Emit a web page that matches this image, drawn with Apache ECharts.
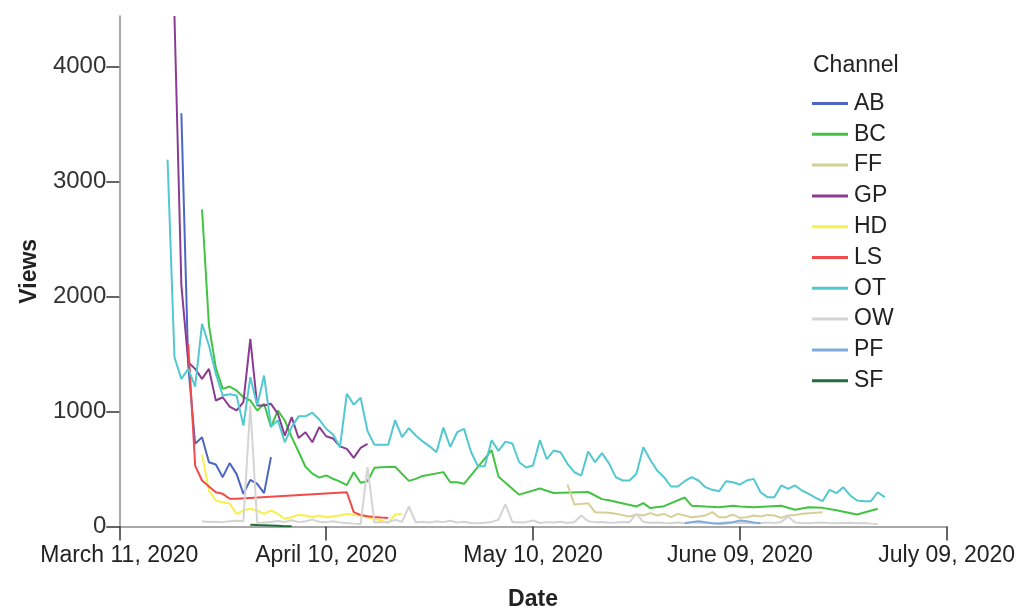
<!DOCTYPE html>
<html>
<head>
<meta charset="utf-8">
<script src="https://cdn.jsdelivr.net/npm/echarts@6/dist/echarts.min.js"></script>
<style>
html,body{margin:0;padding:0;background:#fff;}
#chart{width:1016px;height:610px;}
</style>
</head>
<body>
<div id="chart"></div>
<script>
// x values are days since March 11, 2020
const xTickLabels = ['March 11, 2020', 'April 10, 2020', 'May 10, 2020', 'June 09, 2020', 'July 09, 2020'];
const yTickValues = [0, 1000, 2000, 3000, 4000];
const channels = ['AB', 'BC', 'FF', 'GP', 'HD', 'LS', 'OT', 'OW', 'PF', 'SF'];
const colors = ['#4d66c4', '#42c442', '#d6cf96', '#8a3c94', '#f5f04e', '#f24a4a', '#52c8cf', '#d4d4d4', '#7eaadf', '#1f6e3c'];

const AB = [[9,3594],[10,1400],[11,719],[12,777],[13,559],[14,539],[15,429],[16,551],[17,458],[18,284],[19,406],[20,371],[21,290],[22,603]];
const BC = [[12,2757],[13,1750],[14,1380],[15,1197],[16,1217],[17,1183],[18,1124],[19,1096],[20,1009],[21,1067],[22,864],[23,1009],[24,922],[25,777],[26,650],[27,520],[28,460],[29,425],[30,445],[31,415],[32,390],[33,360],[34,472],[35,380],[36,394],[37,510],[38,516],[39,518],[40,520],[42,397],[43,414],[44,440],[47,473],[48,385],[49,385],[50,371],[54,664],[55,432],[58,277],[61,330],[63,292],[68,300],[70,238],[71,229],[75,174],[76,203],[77,160],[79,177],[82,252],[83,181],[85,174],[87,168],[89,180],[90,174],[92,168],[94,174],[96,180],[98,145],[100,168],[102,162],[104,142],[107,104],[110,154]];
const FF = [[65,365],[66,191],[68,203],[69,125],[71,119],[72,110],[73,99],[74,87],[75,105],[76,96],[77,116],[78,96],[79,110],[80,81],[81,110],[82,96],[83,81],[84,87],[85,96],[86,125],[87,81],[88,81],[89,104],[90,75],[91,81],[92,96],[93,87],[94,101],[95,96],[96,75],[97,96],[98,101],[99,110],[100,116],[102,125]];
const GP = [[8,4440],[9,2100],[10,1429],[11,1371],[12,1284],[13,1371],[14,1096],[15,1124],[16,1043],[17,1009],[18,1081],[19,1632],[20,1052],[21,1052],[22,1067],[23,980],[24,790],[25,951],[26,770],[27,820],[28,733],[29,864],[30,785],[31,765],[32,697],[33,675],[34,597],[35,684],[36,719]];
const HD = [[12,625],[13,313],[14,226],[15,211],[16,200],[17,110],[18,139],[19,154],[20,139],[21,110],[22,139],[23,110],[24,67],[25,81],[26,101],[27,96],[28,81],[29,96],[30,81],[31,88],[32,96],[33,110],[34,101],[35,96],[36,81],[37,67],[38,52],[39,29],[40,104],[41,110]];
const LS = [[10,1588],[11,530],[12,400],[13,348],[14,298],[15,284],[16,241],[17,241],[33,298],[34,125],[35,100],[36,90],[37,82],[38,78],[39,75]];
const OT_start = 7;
const OT = [3191,1472,1284,1371,1217,1763,1574,1328,1139,1150,1139,878,1299,1052,1313,870,922,733,864,958,958,990,930,850,800,690,1154,1060,1120,830,710,710,710,925,777,855,791,740,697,646,860,693,820,849,650,525,525,750,658,738,722,559,513,530,751,585,661,646,545,472,443,652,559,638,551,429,400,400,458,690,580,487,429,348,348,394,429,400,342,319,307,394,385,365,400,414,298,255,255,357,328,357,313,284,249,220,319,290,342,270,226,220,220,298,255];
const OW = [[12,45],[13,40],[14,42],[15,38],[16,45],[17,50],[18,46],[19,1052],[20,30],[21,35],[22,40],[23,48],[24,40],[25,55],[26,38],[27,45],[28,60],[29,42],[30,38],[31,45],[32,35],[33,30],[34,25],[35,22],[36,516],[37,35],[38,40],[39,38],[40,58],[41,40],[42,174],[43,37],[44,42],[45,35],[46,45],[47,38],[48,50],[49,35],[50,42],[51,30],[52,28],[53,32],[54,40],[55,60],[56,195],[57,40],[58,35],[59,38],[60,52],[61,30],[62,38],[63,35],[64,42],[65,30],[66,40],[67,96],[68,45],[69,38],[70,40],[71,32],[72,35],[73,40],[74,38],[75,110],[76,40],[77,32],[78,35],[79,30],[80,28],[81,35],[82,30],[83,38],[84,32],[85,35],[86,28],[87,30],[88,38],[89,35],[90,30],[91,32],[92,28],[93,30],[94,35],[95,30],[96,40],[97,87],[98,35],[99,30],[100,28],[101,32],[102,35],[103,30],[104,28],[105,30],[106,32],[107,28],[108,30],[109,25],[110,22]];
const PF = [[82,29],[83,37],[84,46],[85,37],[86,29],[87,23],[88,29],[89,37],[90,52],[91,45],[92,35],[93,29]];
const SF = [[19,15],[20,12],[21,10],[22,8],[23,6],[24,3],[25,2]];

const OTpairs = OT.map((v, i) => [OT_start + i, v]);
const seriesData = {AB: AB, BC: BC, FF: FF, GP: GP, HD: HD, LS: LS, OT: OTpairs, OW: OW, PF: PF, SF: SF};

const FONT = 'Liberation Sans, Arial, sans-serif';
const chart = echarts.init(document.getElementById('chart'), null, {renderer: 'canvas'});
chart.setOption({
  animation: false,
  backgroundColor: '#ffffff',
  color: colors,
  title: {
    text: 'Channel', left: 808, top: 49,
    textStyle: {fontFamily: FONT, fontSize: 23, fontWeight: 'normal', color: '#222'}
  },
  legend: {
    orient: 'vertical', left: 812, top: 92, padding: 0,
    icon: 'rect', itemWidth: 36, itemHeight: 3, itemGap: 7.8,
    data: channels,
    textStyle: {fontFamily: FONT, fontSize: 23, color: '#222', lineHeight: 23, padding: [0, 0, 0, 1]}
  },
  grid: {left: 119.3, right: 69.3, top: 16, bottom: 83.5, containLabel: false, outerBoundsMode: 'none'},
  xAxis: {
    type: 'value', min: 0, max: 120, interval: 30,
    name: 'Date', nameLocation: 'middle', nameGap: 62,
    nameTextStyle: {fontFamily: FONT, fontSize: 23, fontWeight: 'bold', color: '#222'},
    axisLine: {show: true, lineStyle: {color: '#8c8c8c', width: 1.5}},
    axisTick: {show: true, length: 14, lineStyle: {color: '#333', width: 1.5}},
    axisLabel: {
      margin: 18, fontFamily: FONT, fontSize: 23, color: '#222',
      formatter: v => xTickLabels[Math.round(v / 30)] || ''
    },
    splitLine: {show: false}
  },
  yAxis: {
    type: 'value', min: 0, max: 4440,
    name: 'Views', nameLocation: 'middle', nameGap: 78,
    nameTextStyle: {fontFamily: FONT, fontSize: 23, fontWeight: 'bold', color: '#222'},
    axisLine: {show: true, lineStyle: {color: '#8c8c8c', width: 1.5}},
    axisTick: {show: true, length: 13, customValues: yTickValues, lineStyle: {color: '#333', width: 1.5}},
    axisLabel: {margin: 13, fontFamily: FONT, fontSize: 24, color: '#333', customValues: yTickValues,
      formatter: v => String(v)},
    splitLine: {show: false}
  },
  series: channels.map((name, i) => ({
    name: name, type: 'line', data: seriesData[name],
    symbol: 'none', showSymbol: false, connectNulls: true,
    lineStyle: {width: 2, color: colors[i]},
    itemStyle: {color: colors[i]},
    emphasis: {disabled: true},
    clip: true
  }))
});
</script>
</body>
</html>
